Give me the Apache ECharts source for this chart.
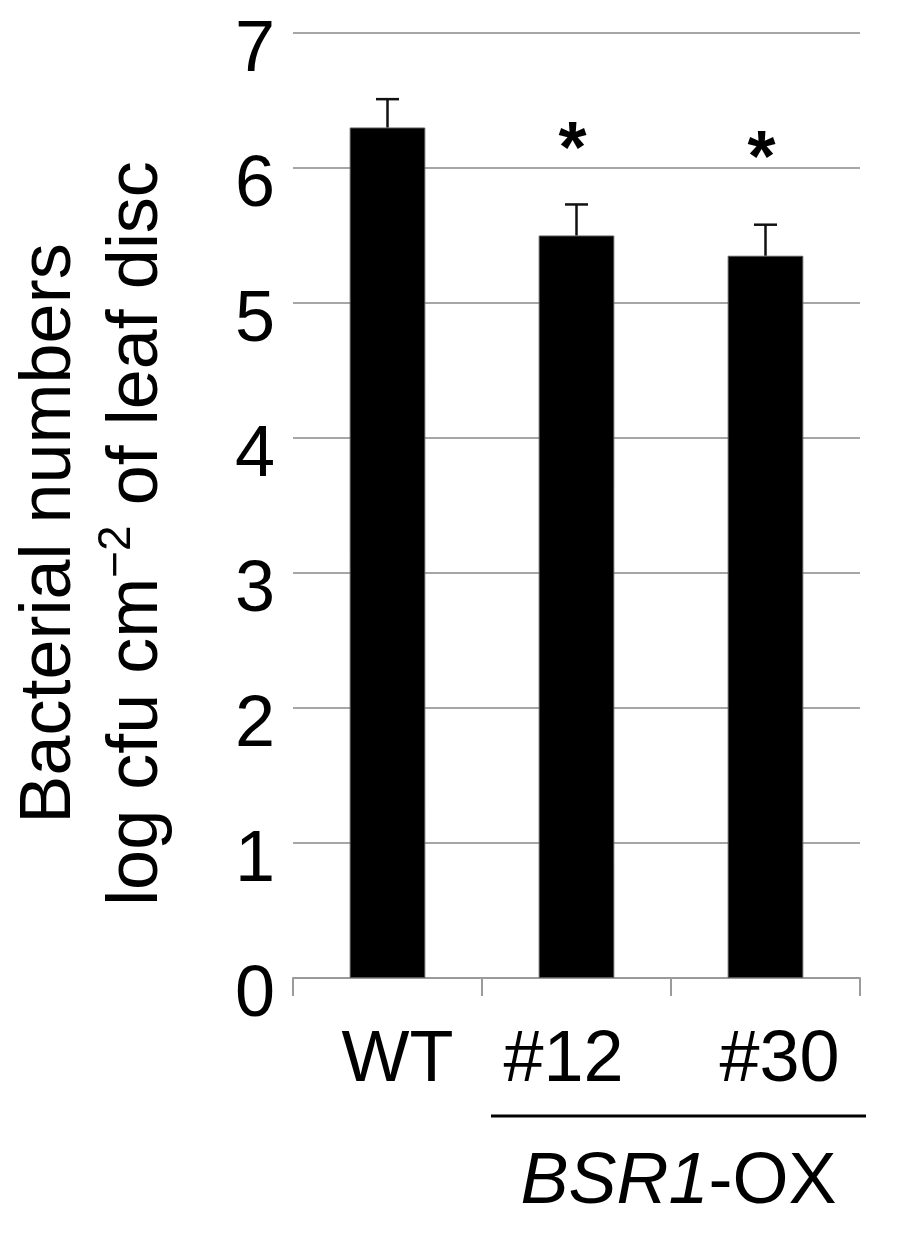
<!DOCTYPE html>
<html>
<head>
<meta charset="utf-8">
<script src="https://cdn.jsdelivr.net/npm/echarts@6/dist/echarts.min.js"></script>
<style>
html,body{margin:0;padding:0;background:#fff;}
#chart{width:909px;height:1250px;}
</style>
</head>
<body>
<div id="chart"></div>
<script>
// ---- data ----
const categories = ['WT', '#12', '#30'];
const means = [6.30, 5.50, 5.35];
const errors = [0.21, 0.23, 0.23];
const starLevels = [null, 6.12, 6.05];
const yMin = 0, yMax = 7, yInterval = 1;
const groupLabel = ['BSR1', '-OX'];

const FONT = '"Liberation Sans", Arial, Helvetica, sans-serif';
const chart = echarts.init(document.getElementById('chart'), null, {renderer: 'canvas'});

const labelRich = {
  w: {padding: [0, 0, 0, 20]},
  a: {padding: [0, 26, 0, 0]},
  b: {padding: [0, 0, 0, 28]}
};
const labelKey = {'WT': 'w', '#12': 'a', '#30': 'b'};

const option = {
  animation: false,
  backgroundColor: '#ffffff',
  grid: {left: 293, right: 49, top: 33, bottom: 272, containLabel: false},
  xAxis: {
    type: 'category',
    data: categories,
    boundaryGap: true,
    axisLine: {show: true, lineStyle: {color: '#9a9a9a', width: 2}},
    axisTick: {show: true, interval: 0, length: 18, alignWithLabel: false, lineStyle: {color: '#9a9a9a', width: 2}},
    axisLabel: {
      interval: 0,
      hideOverlap: false,
      margin: 47,
      color: '#000',
      fontFamily: FONT,
      fontSize: 72,
      formatter: v => '{' + labelKey[v] + '|' + v + '}',
      rich: labelRich
    }
  },
  yAxis: {
    type: 'value',
    min: yMin, max: yMax, interval: yInterval,
    axisLine: {show: false},
    axisTick: {show: false},
    splitLine: {show: true, lineStyle: {color: '#a6a6a6', width: 2}},
    axisLabel: {
      margin: 18,
      color: '#000',
      fontFamily: FONT,
      fontSize: 72,
      verticalAlign: 'top',
      lineHeight: 36
    },
    name: '{t|Bacterial numbers}\n{t|log cfu cm}{s|\u22122}{t| of leaf disc}',
    nameLocation: 'middle',
    nameRotate: 90,
    nameGap: 112,
    nameTextStyle: {
      fontFamily: FONT,
      color: '#000',
      padding: [0, 56, 0, 0],
      rich: {
        t: {fontFamily: FONT, fontSize: 72, lineHeight: 87, color: '#000'},
        s: {fontFamily: FONT, fontSize: 46, lineHeight: 46, verticalAlign: 'top', color: '#000'}
      }
    }
  },
  series: [
    {
      type: 'bar',
      data: means,
      barWidth: '40%',
      itemStyle: {color: '#000', borderColor: '#555', borderWidth: 1},
      z: 2
    },
    {
      type: 'custom',
      data: categories.map((c, i) => [i, means[i], errors[i]]),
      encode: {x: 0, y: 1},
      z: 3,
      renderItem: function (params, api) {
        const x = api.value(0), m = api.value(1), e = api.value(2);
        const b = api.coord([x, m]);
        const t = api.coord([x, m + e]);
        const half = 11.5;
        const st = {stroke: '#111', lineWidth: 2.5};
        return {
          type: 'group',
          children: [
            {type: 'line', shape: {x1: b[0], y1: b[1], x2: t[0], y2: t[1]}, style: st},
            {type: 'line', shape: {x1: t[0] - half, y1: t[1], x2: t[0] + half, y2: t[1]}, style: st}
          ]
        };
      }
    },
    {
      type: 'scatter',
      data: starLevels.map((v, i) => v == null ? null : [i, v]).filter(d => d),
      symbolSize: 0,
      z: 4,
      itemStyle: {opacity: 1, color: '#000'},
      label: {
        show: true,
        position: 'inside',
        offset: [-4, 0],
        formatter: '*',
        fontFamily: FONT,
        fontSize: 72,
        fontWeight: 'bold',
        color: '#000',
        opacity: 1,
        textBorderWidth: 0
      }
    }
  ]
};
chart.setOption(option);

// group bracket under transgenic lines, positioned from the category axis
const p12 = chart.convertToPixel({xAxisIndex: 0}, '#12');
const p30 = chart.convertToPixel({xAxisIndex: 0}, '#30');
const band = p30 - p12;
const lx1 = p12 - band / 2 + 9;
const lx2 = p30 + band / 2 + 6;
chart.setOption({
  graphic: [
    {type: 'line', shape: {x1: lx1, y1: 1116, x2: lx2, y2: 1116}, style: {stroke: '#000', lineWidth: 3}},
    {
      type: 'text',
      x: (lx1 + lx2) / 2,
      y: 1183,
      style: {
        text: '{i|' + groupLabel[0] + '}{n|' + groupLabel[1] + '}',
        align: 'center',
        verticalAlign: 'middle',
        rich: {
          i: {fontFamily: FONT, fontSize: 72, fontStyle: 'italic', fill: '#000'},
          n: {fontFamily: FONT, fontSize: 72, fill: '#000'}
        }
      }
    }
  ]
});
</script>
</body>
</html>
